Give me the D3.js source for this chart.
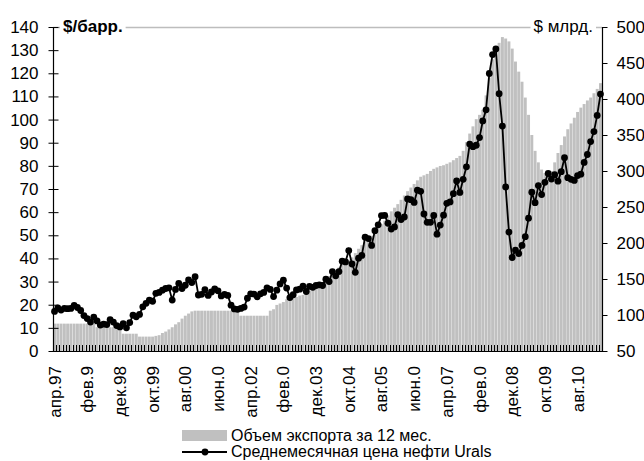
<!DOCTYPE html>
<html><head><meta charset="utf-8">
<script src="https://cdn.jsdelivr.net/npm/d3@7/dist/d3.min.js"></script>
<style>
body{margin:0;background:#fff}
svg{display:block}
text{font-family:"Liberation Sans",Arial,sans-serif;fill:#000}
</style>
</head><body>
<svg id="chart" width="644" height="461"></svg>
<script>
// ---- DATA ----
const startYear = 1997, startMonth = 3; // April 1997 (0-based month)
const monthNames = ["янв","фев","мар","апр","май","июн","июл","авг","сен","окт","ноя","дек"];

// Average monthly Urals price, $/bbl (Apr 1997 – Mar 2011)
const priceUrals = [
  17.1,18.6,17.7,18.4,18.3,18.4,19.7,18.8,17.5,
  15.3,14.0,12.5,14.6,13.0,11.2,11.6,11.4,13.6,12.5,11.0,10.4,
  11.8,10.0,12.3,15.5,14.8,15.8,19.1,20.6,22.0,21.5,24.9,25.3,
  26.3,27.0,27.3,22.0,26.6,29.2,27.0,28.4,30.7,29.6,32.1,24.2,
  24.5,26.5,24.0,25.5,26.8,26.0,23.8,24.5,24.0,19.8,18.2,18.0,
  18.4,19.0,22.8,24.7,24.6,23.4,24.7,25.3,27.3,26.6,23.5,26.3,
  29.0,30.6,27.2,23.1,24.3,26.4,26.7,28.0,25.7,27.9,27.5,28.3,
  28.6,28.3,31.0,30.0,34.3,32.5,34.3,38.8,38.5,43.4,37.6,34.0,
  40.1,41.3,49.2,48.6,45.6,52.0,54.5,58.5,58.6,55.2,52.7,53.6,
  58.9,56.8,57.9,65.7,65.4,64.2,69.5,69.0,59.2,55.6,55.6,58.6,
  50.5,54.4,58.7,63.8,64.4,68.0,73.5,68.5,74.2,79.6,89.4,88.3,
  88.9,92.2,99.4,104.2,119.9,128.1,130.5,111.2,97.2,70.9,51.4,40.4,
  43.6,42.1,45.6,49.4,57.4,68.6,64.1,71.5,67.6,72.9,76.7,74.3,
  76.2,73.4,77.5,83.5,74.9,74.2,73.7,75.8,76.4,81.5,84.9,90.5,
  94.8,101.8,111.0
];

// Export volume over the last 12 months, $ bn
const exportVolume = [
  88,88,88,88,88,88,88,88,88,
  88,88,88,88,83,83,83,83,83,83,83,83,
  74,74,74,74,74,70,70,70,70,70,71,72,
  75,77,80,83,87,90,95,99,102,105,106,106,
  106,106,106,106,106,106,106,106,106,106,106,106,
  99,99,99,99,99,99,99,99,99,106,108,114,
  116,118,122,124,125,125,127,128,130,134,137,140,
  143,146,150,154,158,162,166,170,174,177,180,186,
  192,197,202,206,210,216,221,226,231,238,244,249,
  254,260,266,272,277,282,287,292,294,296,300,303,
  305,307,308,310,312,315,318,321,328,340,352,362,
  372,378,385,405,430,455,470,478,486,484,480,470,
  452,438,424,402,378,350,328,312,302,297,295,300,
  312,325,336,348,358,366,374,382,388,393,398,402,
  408,414,422
];

const tickLabels = ["апр.97","фев.9","дек.98","окт.99","авг.00","июн.0","апр.02","фев.0","дек.03","окт.04","авг.05","июн.0","апр.07","фев.0","дек.08","окт.09","авг.10"];
const tickEvery = 10;
const leftTicks = [0,10,20,30,40,50,60,70,80,90,100,110,120,130,140];
const rightTicks = [50,100,150,200,250,300,350,400,450,500];
const leftUnit = "$/барр.";
const rightUnit = "$ млрд.";
const seriesNames = ["Объем экспорта за 12 мес.","Среднемесячная цена нефти Urals"];

// categories (months)
const categories = priceUrals.map((_, i) => {
  const m = startMonth + i;
  return monthNames[m % 12] + "." + String((startYear + Math.floor(m / 12)) % 100).padStart(2, "0");
});

// ---- LAYOUT ----
const svg = d3.select("#chart");
const X0 = 53, X1 = 602, Y0 = 27, Y1 = 351;
const FS = 17, LFS = 16;

const x = d3.scaleBand().domain(categories).range([X0, X1]).paddingInner(0.1).paddingOuter(0.02);
const yL = d3.scaleLinear().domain([0, 140]).range([Y1, Y0]);
const yR = d3.scaleLinear().domain([50, 500]).range([Y1, Y0]);

// top border of plot area
svg.append("line").attr("x1", X0).attr("x2", X1).attr("y1", Y0 + 0.5).attr("y2", Y0 + 0.5)
  .attr("stroke", "#bdbdbd").attr("stroke-width", 1.5);

// bars
svg.append("g").selectAll("rect").data(exportVolume).join("rect")
  .attr("x", (d, i) => x(categories[i]))
  .attr("width", x.bandwidth())
  .attr("y", d => yR(d))
  .attr("height", d => Y1 - yR(d))
  .attr("fill", "#c0c0c0");

// bottom axis
const gx = svg.append("g").attr("transform", `translate(0,${Y1})`)
  .call(d3.axisBottom(x).tickValues(categories).tickSize(0).tickFormat(""));
gx.select(".domain").remove();
svg.append("line").attr("x1", X0).attr("x2", X1).attr("y1", Y1 + 0.5).attr("y2", Y1 + 0.5)
  .attr("stroke", "#000").attr("stroke-width", 1);
// month ticks at band boundaries
const bounds = categories.map((c, i) => x(c) - x.step() * x.paddingInner() / 2).concat([X1]);
svg.append("g").selectAll("line").data(bounds).join("line")
  .attr("x1", d => Math.round(d) + 0.5).attr("x2", d => Math.round(d) + 0.5)
  .attr("y1", Y1 - 6).attr("y2", Y1 + 1)
  .attr("stroke", "#000").attr("stroke-width", 1);
// labels
svg.append("g").selectAll("text").data(tickLabels).join("text")
  .attr("transform", (d, k) => {
    const cx = x(categories[k * tickEvery]) + x.bandwidth() / 2;
    return `translate(${cx + 6},${Y1 + 15}) rotate(-90)`;
  })
  .attr("text-anchor", "end")
  .attr("font-size", FS)
  .text(d => d);

// left axis
const gl = svg.append("g").attr("transform", `translate(${X0 + 0.5},0)`)
  .call(d3.axisLeft(yL).tickValues(leftTicks).tickSize(5).tickPadding(10));
gl.select(".domain").attr("d", `M0,${Y0}V${Y1 + 1}`).attr("stroke", "#000").attr("stroke-width", 1.2);
gl.selectAll(".tick line").attr("x1", 5).attr("x2", -5).attr("stroke", "#000");
gl.selectAll(".tick text").attr("font-size", FS).attr("font-family", "Liberation Sans, Arial, sans-serif").attr("fill", "#000");

// right axis
const gr = svg.append("g").attr("transform", `translate(${X1 + 0.5},0)`)
  .call(d3.axisRight(yR).tickValues(rightTicks).tickSize(5).tickPadding(9));
gr.select(".domain").attr("d", `M0,${Y0}V${Y1 + 1}`).attr("stroke", "#000").attr("stroke-width", 1.2);
gr.selectAll(".tick line").attr("stroke", "#000");
gr.selectAll(".tick text").attr("font-size", FS).attr("font-family", "Liberation Sans, Arial, sans-serif").attr("fill", "#000");

// price line
const px = (d, i) => x(categories[i]) + x.bandwidth() / 2;
svg.append("path").datum(priceUrals)
  .attr("d", d3.line().x(px).y(d => yL(d)))
  .attr("fill", "none").attr("stroke", "#000").attr("stroke-width", 1.8);
svg.append("g").selectAll("circle").data(priceUrals).join("circle")
  .attr("cx", px).attr("cy", d => yL(d)).attr("r", 3.4).attr("fill", "#000");

// unit labels
function unitLabel(txt, xx, anchor, bold) {
  const t = svg.append("text").attr("x", xx).attr("y", Y0 + 5)
    .attr("text-anchor", anchor).attr("font-size", FS)
    .attr("font-weight", bold ? "bold" : "normal").text(txt);
  const b = t.node().getBBox();
  svg.insert("rect", () => t.node()).attr("x", b.x - 3).attr("y", b.y).attr("width", b.width + 6).attr("height", b.height).attr("fill", "#fff");
}
unitLabel(leftUnit, X0 + 10, "start", true);
unitLabel(rightUnit, X1 - 9, "end", false);

// legend
const lg = svg.append("g");
lg.append("rect").attr("x", 182).attr("y", 430).attr("width", 45).attr("height", 11).attr("fill", "#c0c0c0");
lg.append("text").attr("x", 231).attr("y", 441).attr("font-size", LFS).text(seriesNames[0]);
lg.append("line").attr("x1", 182).attr("x2", 227).attr("y1", 452).attr("y2", 452).attr("stroke", "#000").attr("stroke-width", 1.8);
lg.append("circle").attr("cx", 205).attr("cy", 452).attr("r", 3.4).attr("fill", "#000");
lg.append("text").attr("x", 231).attr("y", 457).attr("font-size", LFS).text(seriesNames[1]);
</script>
</body></html>
